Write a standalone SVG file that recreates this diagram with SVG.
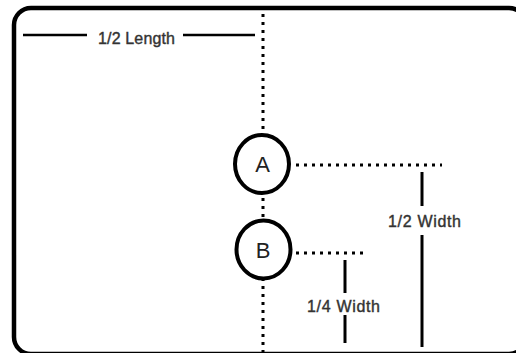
<svg xmlns="http://www.w3.org/2000/svg" width="516" height="353" viewBox="0 0 516 353">
<style>
.frame{fill:#fff;stroke:#000;stroke-width:4.5}
.dot{stroke:#000;stroke-width:3;stroke-dasharray:3 5;fill:none}
.dim{stroke:#000;stroke-width:3;fill:none}
.lbl{font-family:"Liberation Sans",Arial,sans-serif;font-size:16px;fill:#333;stroke:#333;stroke-width:0.4}
.node ellipse{fill:#fff;stroke:#000;stroke-width:4}
.node text{font-family:"Liberation Sans",Arial,sans-serif;font-size:22px;fill:#222;text-anchor:middle}
</style>
<rect width="516" height="353" fill="#fff"/>
<rect class="frame" x="14" y="8" width="512" height="346" rx="17"/>
<g id="connectors">
<line class="dot" x1="263" y1="14" x2="263" y2="353"/>
<line class="dot" x1="296" y1="165" x2="442" y2="165"/>
<line class="dot" x1="296" y1="253" x2="364" y2="253"/>
<line class="dim" x1="23" y1="35" x2="87" y2="35" style="stroke-width:2.5"/>
<line class="dim" x1="183" y1="35" x2="255" y2="35" style="stroke-width:2.5"/>
<line class="dim" x1="422" y1="172" x2="422" y2="206"/>
<line class="dim" x1="422" y1="235" x2="422" y2="347"/>
<line class="dim" x1="345" y1="260" x2="345" y2="293"/>
<line class="dim" x1="345" y1="315" x2="345" y2="343"/>
</g>
<g id="labels">
<text class="lbl" x="98" y="44" textLength="77" lengthAdjust="spacing">1/2 Length</text>
<text class="lbl" x="388" y="227" textLength="73" lengthAdjust="spacing">1/2 Width</text>
<text class="lbl" x="307" y="312" textLength="73" lengthAdjust="spacing">1/4 Width</text>
</g>
<g id="nodeA" class="node">
<ellipse cx="262" cy="164" rx="27" ry="29"/>
<text x="262.5" y="172">A</text>
</g>
<g id="nodeB" class="node">
<ellipse cx="263.5" cy="249.5" rx="27" ry="29"/>
<text x="263" y="257.5">B</text>
</g>
</svg>
